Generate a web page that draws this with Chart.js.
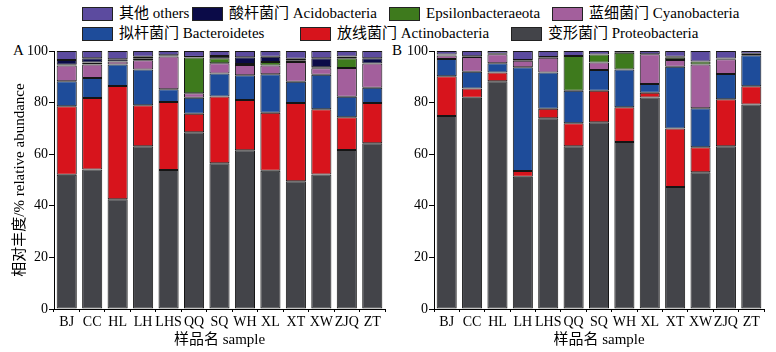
<!DOCTYPE html>
<html><head><meta charset="utf-8">
<script src="https://cdn.jsdelivr.net/npm/chart.js@4.4.1/dist/chart.umd.min.js"></script>
<style>
html,body{margin:0;padding:0;background:#fff;}
body{width:776px;height:352px;position:relative;overflow:hidden;font-family:"Liberation Serif","Noto Sans CJK SC",serif;color:#000;}
.pane{position:absolute;top:0;height:352px;}
.lg{position:absolute;font-size:15px;line-height:15px;white-space:nowrap;display:flex;align-items:center;}
.lg i{display:inline-block;width:29px;height:12px;border:1px solid #222;margin-right:6px;}
.plabel{position:absolute;font-size:15px;line-height:15px;}
</style></head>
<body>
<div id="legend"></div>
<div class="plabel" style="left:13px;top:43px">A</div>
<div class="plabel" style="left:392px;top:43px">B</div>
<div class="pane" style="left:0;width:400px"><canvas id="ca"></canvas></div>
<div class="pane" style="left:390px;width:386px"><canvas id="cb"></canvas></div>
<script>
// ---- data ----
const categories = ["BJ","CC","HL","LH","LHS","QQ","SQ","WH","XL","XT","XW","ZJQ","ZT"];
const seriesNames = ["变形菌门 Proteobacteria","放线菌门 Actinobacteria","拟杆菌门 Bacteroidetes","蓝细菌门 Cyanobacteria","Epsilonbacteraeota","酸杆菌门 Acidobacteria","其他  others"];
// Panel A
const A_proteo = [52.0,54.1,42.5,63.1,53.9,68.5,56.5,61.5,53.6,49.5,52.1,61.6,64.2];
const A_actino = [26.6,27.7,43.9,15.9,26.3,7.2,25.9,19.5,22.5,30.3,25.3,12.7,15.6];
const A_bacter = [9.7,7.7,8.4,13.8,5.0,6.2,8.9,9.6,14.9,8.3,13.4,8.0,6.0];
const A_cyano  = [6.1,5.3,1.1,3.6,12.7,1.7,4.0,4.0,3.4,7.6,2.5,11.1,9.4];
const A_epsil  = [0.3,0.7,0,0.6,0,13.9,1.9,0.4,1.3,0.5,0.4,3.8,0];
const A_acido  = [1.8,1.7,0.9,0.8,0.5,0.2,0.9,2.6,2.1,0.8,3.5,0.7,2.0];
const A_others = [3.5,2.8,3.2,2.2,1.6,2.3,1.9,2.4,2.2,3.0,2.8,2.1,2.8];
// Panel B
const B_proteo = [74.8,81.9,88.3,51.3,73.9,63.1,72.4,64.7,82.0,47.3,53.0,63.1,79.3];
const B_actino = [15.4,3.6,3.4,2.2,3.7,8.9,12.2,13.5,1.8,22.7,9.7,18.2,7.0];
const B_bacter = [6.7,6.5,3.6,40.2,14.1,12.6,8.0,14.6,3.4,23.9,15.1,9.8,12.1];
const B_cyano  = [1.4,5.7,3.4,2.5,5.7,0,2.9,0,11.5,2.6,17.0,5.7,0];
const B_epsil  = [0,0,0,0,0,13.5,3.1,6.5,0,0.9,1.1,0,0];
const B_acido  = [0.3,0.3,0.2,0.3,0.3,0,0,0,0,0.4,0,0.3,0.5];
const B_others = [1.4,2.0,1.1,3.5,2.3,1.9,1.4,0.7,1.3,2.2,4.1,2.9,1.1];
const yTicks = [0,20,40,60,80,100];

// ---- styles ----
const colors = ["#434449","#d7141c","#1e4c9a","#a35f9c","#3e7a1d","#0b0b48","#5c4b9f"];
const legendPos = [[511,26],[300,26],[82,26],[552,6],[389,6],[192,6],[82,6]];

const leg = document.getElementById('legend');
seriesNames.forEach((n,i)=>{
  const d=document.createElement('div');d.className='lg';
  d.style.left=legendPos[i][0]+'px';d.style.top=legendPos[i][1]+'px';
  d.innerHTML='<i style="background:'+colors[i]+'"></i><span>'+n+'</span>';
  leg.appendChild(d);
});

const FONT = {family:'"Liberation Serif","Noto Sans CJK SC",serif', size:14};
const TFONT = {family:'"Liberation Serif","Noto Sans CJK SC",serif', size:15};
function mk(id, data, yTitle, yWidth, padRight){
  const ds = data.map((arr,i)=>({label:seriesNames[i],data:arr,backgroundColor:colors[i],
    borderColor:'#151515',borderWidth:c=>(c.raw?1:0),borderSkipped:false,categoryPercentage:1,barPercentage:0.79}));
  return new Chart(document.getElementById(id),{
    type:'bar',
    data:{labels:categories,datasets:ds},
    options:{
      responsive:true,maintainAspectRatio:false,animation:false,
      layout:{padding:{top:51,right:padRight,bottom:0,left:0}},
      plugins:{legend:{display:false},tooltip:{enabled:false}},
      scales:{
        x:{stacked:true,
          grid:{display:true,drawOnChartArea:false,drawTicks:true,tickLength:3,color:'#000'},
          border:{display:true,color:'#000',width:1},
          ticks:{color:'#000',font:FONT,padding:2,maxRotation:0,autoSkip:false},
          title:{display:true,text:'样品名 sample',color:'#000',font:TFONT,padding:{top:0,bottom:3}},
          afterFit:s=>{s.height=43;}
        },
        y:{stacked:true,min:0,max:100,
          afterBuildTicks:s=>{s.ticks=yTicks.map(v=>({value:v}));},
          grid:{display:true,drawOnChartArea:false,drawTicks:true,tickLength:5,color:'#000'},
          border:{display:true,color:'#000',width:1},
          ticks:{color:'#000',font:FONT,padding:1},
          title:{display:!!yTitle,text:yTitle,color:'#000',font:TFONT,padding:{top:11,bottom:0}},
          afterFit:s=>{s.width=yWidth;}
        }
      }
    }
  });
}
mk('ca',[A_proteo,A_actino,A_bacter,A_cyano,A_epsil,A_acido,A_others],'相对丰度/% relative abundance',54,15);
mk('cb',[B_proteo,B_actino,B_bacter,B_cyano,B_epsil,B_acido,B_others],'',44,12);
</script>
</body></html>
